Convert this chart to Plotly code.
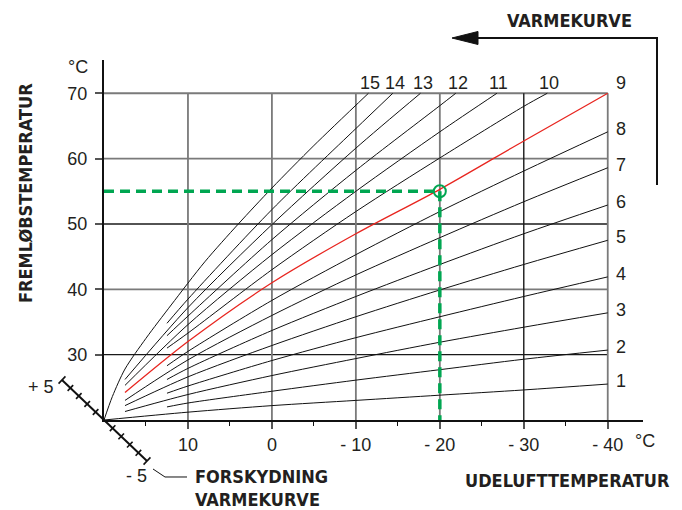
import math
import plotly.graph_objects as go

# ---------------- data ----------------
curve_names = ["1", "2", "3", "4", "5", "6", "7", "8", "9",
               "10", "11", "12", "13", "14", "15"]
curve_outdoor = [
    [20, 10, 0, -10, -20, -30, -40],
    [12.5, 10, 0, -10, -20, -30, -40],
    [17.5, 10, 0, -10, -20, -30, -40],
    [12.5, 10, 0, -10, -20, -30, -40],
    [17.5, 10, 0, -10, -20, -30, -40],
    [12.5, 10, 0, -10, -20, -30, -40],
    [17.5, 10, 0, -10, -20, -30, -40],
    [12.5, 10, 0, -10, -20, -30, -40],
    [17.5, 10, 0, -10, -20, -30, -40],
    [12.5, 10, 0, -10, -20, -30, -32.8],
    [17.5, 10, 0, -10, -20, -26.8],
    [12.5, 10, 0, -10, -20, -21.9],
    [17.5, 10, 0, -10, -17.7],
    [12.5, 10, 0, -10, -14.4],
    [20, 19, 17.5, 15, 12, 8, 4, 0, -5, -11.5],
]
curve_flow = [
    [20.0, 21.2, 22.2, 23.0, 23.8, 24.6, 25.5],
    [22.0, 22.6, 24.4, 26.1, 27.7, 29.3, 30.7],
    [21.3, 23.9, 26.8, 29.4, 31.9, 34.2, 36.4],
    [24.1, 25.2, 29.1, 32.6, 35.8, 38.9, 41.9],
    [22.2, 26.6, 31.4, 35.8, 39.9, 43.8, 47.5],
    [26.2, 27.9, 33.7, 38.9, 43.8, 48.5, 52.9],
    [23.0, 29.2, 36.0, 42.2, 47.9, 53.4, 58.6],
    [28.3, 30.5, 38.3, 45.3, 51.9, 58.1, 64.1],
    [24.2, 32.0, 41.0, 48.5, 55.3, 62.7, 70.0],
    [31.0, 33.3, 43.0, 51.9, 60.1, 68.0, 70.0],
    [25.3, 34.6, 45.3, 55.0, 64.1, 70.0],
    [32.9, 35.9, 47.6, 58.2, 68.1, 70.0],
    [26.2, 37.2, 49.9, 61.6, 70.0],
    [34.8, 38.5, 52.2, 64.6, 70.0],
    [20.0, 23.6, 27.8, 32.5, 37.6, 44.2, 50.0, 55.5, 62.0, 70.0],
]
highlight_curve = "9"

x_tick_vals = [10, 0, -10, -20, -30, -40]
x_tick_text = ["10", "0", "- 10", "- 20", "- 30", "- 40"]
x_minor_vals = [15, 5, -5, -15, -25, -35]
y_tick_vals = [30, 40, 50, 60, 70]
y_tick_text = ["30", "40", "50", "60", "70"]
x_grid_dark = [-30]
y_grid_dark = [30, 50]

set_outdoor = -20
set_flow = 55

# ---------------- layout constants ----------------
W, H = 682, 510
ML, MR, MT, MB = 104, 39, 60, 90
PW, PH = W - ML - MR, H - MT - MB
X_RANGE = [20, -44.2]
Y_RANGE = [20, 75.09]

TXT = "#231f20"
TICKFONT = dict(family="Liberation Sans, Arial, sans-serif", size=18, color=TXT)
BOLDFONT = dict(family="Liberation Sans Narrow, DejaVu Sans Condensed, Liberation Sans, Arial",
                size=18, color=TXT, weight="bold")


def P(px, py):
    """pixel position -> paper coordinates (for decorations outside the axes)"""
    return (px - ML) / PW, (H - MB - py) / PH


fig = go.Figure()

# grid lines
shapes = []
x_left, x_right = max(X_RANGE), min(x_tick_vals)
y_bottom, y_top = min(Y_RANGE), max(y_tick_vals)
for yv in y_tick_vals:
    dark = yv in y_grid_dark
    shapes.append(dict(type="line", xref="x", yref="y", x0=x_left, x1=x_right, y0=yv, y1=yv,
                       line=dict(color="#1a1a1a" if dark else "#7a7a7a", width=1.4 if dark else 1.8),
                       layer="below"))
for xv in x_tick_vals:
    dark = xv in x_grid_dark
    shapes.append(dict(type="line", xref="x", yref="y", x0=xv, x1=xv, y0=y_bottom, y1=y_top,
                       line=dict(color="#1a1a1a" if dark else "#7a7a7a", width=1.4 if dark else 1.8),
                       layer="below"))

# heating curves
for name, xs, ys in zip(curve_names, curve_outdoor, curve_flow):
    red = name == highlight_curve
    fig.add_trace(go.Scatter(
        x=xs, y=ys, mode="lines", name=name,
        line=dict(color="#e8251f" if red else "#111111", width=1.3 if red else 1.0,
                  shape="spline", smoothing=0.8),
        hoverinfo="skip", showlegend=False))

# set point (green dashed lines + circle)
GREEN = "#00a651"
fig.add_trace(go.Scatter(x=[max(X_RANGE), set_outdoor], y=[set_flow, set_flow], mode="lines",
                         line=dict(color=GREEN, width=3.5, dash="10px,6px"), showlegend=False))
fig.add_trace(go.Scatter(x=[set_outdoor, set_outdoor], y=[set_flow, min(Y_RANGE)], mode="lines",
                         line=dict(color=GREEN, width=3.5, dash="10px,6px"), showlegend=False))
fig.add_trace(go.Scatter(x=[set_outdoor], y=[set_flow], mode="markers",
                         marker=dict(symbol="circle", size=12, color="rgba(255,255,255,0)",
                                     line=dict(color=GREEN, width=2)),
                         showlegend=False))

# curve labels
ann = []
for name, xs, ys in zip(curve_names, curve_outdoor, curve_flow):
    if xs[-1] <= min(x_tick_vals):
        ann.append(dict(x=xs[-1], y=ys[-1], xref="x", yref="y", text=name, showarrow=False,
                        xshift=13, yshift=10 if ys[-1] >= y_top else 3, font=TICKFONT))
    else:
        ann.append(dict(x=xs[-1], y=ys[-1], xref="x", yref="y", text=name, showarrow=False,
                        xshift=2, yshift=10, font=TICKFONT))


# texts outside the axes
def text_at(px, py, text, font, xanchor="center", angle=0):
    x, y = P(px, py)
    ann.append(dict(x=x, y=y, xref="paper", yref="paper", text=text, showarrow=False,
                    xanchor=xanchor, yanchor="middle", font=font, textangle=angle))


text_at(78, 67, "°C", TICKFONT)
text_at(645, 441, "°C", TICKFONT)
text_at(41, 387, "+ 5", TICKFONT)
text_at(136, 476, "- 5", TICKFONT)
text_at(25, 193, "FREMLØBSTEMPERATUR", BOLDFONT, angle=-90)
text_at(672, 480, "UDELUFTTEMPERATUR", BOLDFONT, xanchor="right")
text_at(193, 477, "FORSKYDNING", BOLDFONT, xanchor="left")
text_at(193, 499, "VARMEKURVE", BOLDFONT, xanchor="left")
text_at(569, 21, "VARMEKURVE", BOLDFONT)


def pline(pts, width=1.5, color="#111111", fill=None):
    path = ""
    for i, (px, py) in enumerate(pts):
        x, y = P(px, py)
        path += ("M" if i == 0 else "L") + f"{x:.5f},{y:.5f}"
    if fill:
        path += "Z"
    shapes.append(dict(type="path", xref="paper", yref="paper", path=path,
                       line=dict(color=color, width=width),
                       fillcolor=fill if fill else "rgba(0,0,0,0)"))


# offset ruler (diagonal scale through the origin)
ox, oy = 104, 420
up_end = (62, 380)
dn_end = (147, 461)
pline([up_end, dn_end], width=2)
dx, dy = dn_end[0] - up_end[0], dn_end[1] - up_end[1]
L = math.hypot(dx, dy)
nx, ny = dy / L, -dx / L
for end in (up_end, dn_end):
    for k in range(1, 6):
        cx = ox + (end[0] - ox) * k / 5
        cy = oy + (end[1] - oy) * k / 5
        s = 5 if k == 5 else 4
        pline([(cx - s * nx, cy - s * ny), (cx + s * nx, cy + s * ny)], width=1.6)
# leader line from "- 5" to caption
pline([(153, 469), (165, 477), (187, 477)], width=1)

# top-right arrow
pline([(657, 185), (657, 38), (474, 38)], width=2)
pline([(452, 38), (478, 31.5), (478, 44.5)], width=1, fill="#111111")

fig.update_layout(
    width=W, height=H,
    margin=dict(l=ML, r=MR, t=MT, b=MB, pad=0),
    paper_bgcolor="white", plot_bgcolor="white",
    shapes=shapes, annotations=ann, showlegend=False,
    xaxis=dict(range=X_RANGE, showgrid=False, zeroline=False,
               showline=True, linecolor="#111111", linewidth=2,
               tickmode="array", tickvals=x_tick_vals, ticktext=x_tick_text,
               ticks="outside", ticklen=7, tickwidth=1.6, tickcolor="#555555",
               tickfont=TICKFONT,
               minor=dict(tickvals=x_minor_vals, ticks="outside", ticklen=4,
                          tickwidth=1.4, tickcolor="#111111", showgrid=False)),
    yaxis=dict(range=Y_RANGE, showgrid=False, zeroline=False,
               showline=True, linecolor="#111111", linewidth=2,
               tickmode="array", tickvals=y_tick_vals, ticktext=y_tick_text,
               ticks="outside", ticklen=7, tickwidth=1.6, tickcolor="#555555",
               tickfont=TICKFONT, ticklabelstandoff=4),
)

fig.write_html("out.html", config={"displayModeBar": False},
               post_script="document.body.style.margin='0px';document.body.style.overflow='hidden';")
